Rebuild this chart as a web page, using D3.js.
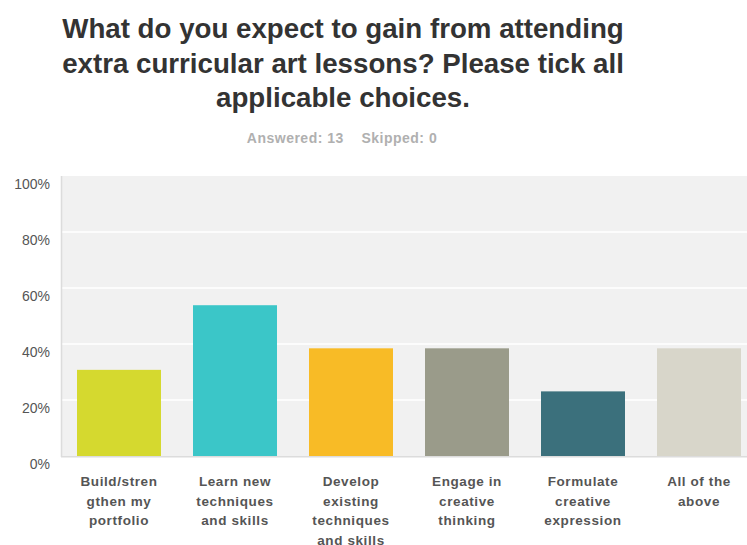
<!DOCTYPE html>
<html>
<head>
<meta charset="utf-8">
<script src="https://cdn.jsdelivr.net/npm/d3@7"></script>
<style>
  html, body { margin: 0; padding: 0; background: #ffffff; }
  svg { display: block; }
</style>
</head>
<body>
<svg id="chart" width="747" height="545"></svg>
<script>
// ---- data ----
const titleLines = ["What do you expect to gain from attending", "extra curricular art lessons? Please tick all", "applicable choices."];
const subtitle = "Answered: 13    Skipped: 0";
const categories = ["Build/strengthen my portfolio", "Learn new techniques and skills", "Develop existing techniques and skills", "Engage in creative thinking", "Formulate creative expression", "All of the above"];
const categoryLines = [
  ["Build/stren", "gthen my", "portfolio"],
  ["Learn new", "techniques", "and skills"],
  ["Develop", "existing", "techniques", "and skills"],
  ["Engage in", "creative", "thinking"],
  ["Formulate", "creative", "expression"],
  ["All of the", "above"]
];
const values = [30.77, 53.85, 38.46, 38.46, 23.08, 38.46];
const colors = ["#d5d92f", "#3bc6c8", "#f8bb26", "#9a9b8a", "#3b707c", "#d8d6ca"];
const yTicks = [0, 20, 40, 60, 80, 100];
const yTickLabels = ["0%", "20%", "40%", "60%", "80%", "100%"];

// ---- layout ----
const svg = d3.select("#chart");
const plot = { left: 61, right: 747, top: 176, bottom: 456 };
const stepPx = 116, gapPx = 32;

const x = d3.scaleBand()
  .domain(categories)
  .range([plot.left, plot.left + stepPx * categories.length])
  .paddingInner(gapPx / stepPx)
  .paddingOuter(gapPx / stepPx / 2);

const y = d3.scaleLinear().domain([0, 100]).range([plot.bottom, plot.top]);

// title
svg.append("g").selectAll("text").data(titleLines).join("text")
  .attr("x", 343)
  .attr("y", (d, i) => 38 + i * 34.5)
  .attr("text-anchor", "middle")
  .attr("font-family", "'Liberation Sans', Arial, Helvetica, sans-serif")
  .attr("font-weight", "bold")
  .attr("font-size", 27.7)
  .attr("fill", "#333333")
  .text(d => d);

svg.append("text")
  .attr("x", 342)
  .attr("y", 143)
  .attr("text-anchor", "middle")
  .attr("font-family", "'Liberation Sans', Arial, Helvetica, sans-serif")
  .attr("font-weight", "bold")
  .attr("font-size", 14)
  .attr("letter-spacing", 0.5)
  .attr("fill", "#b0b0b0")
  .attr("xml:space", "preserve")
  .style("white-space", "pre")
  .text(subtitle);

// plot background
svg.append("rect")
  .attr("x", plot.left).attr("y", plot.top)
  .attr("width", plot.right - plot.left).attr("height", plot.bottom - plot.top)
  .attr("fill", "#f1f1f1");

// gridlines
svg.append("g").selectAll("line").data(yTicks.filter(t => t > 0 && t < 100)).join("line")
  .attr("x1", plot.left).attr("x2", plot.right)
  .attr("y1", d => y(d)).attr("y2", d => y(d))
  .attr("stroke", "#ffffff").attr("stroke-width", 1.5);

// axis lines
svg.append("line")
  .attr("x1", plot.left + 0.5).attr("x2", plot.left + 0.5)
  .attr("y1", plot.top).attr("y2", plot.bottom + 1)
  .attr("stroke", "#dcdcdc").attr("stroke-width", 1.5);
svg.append("line")
  .attr("x1", plot.left).attr("x2", plot.right)
  .attr("y1", plot.bottom + 0.75).attr("y2", plot.bottom + 0.75)
  .attr("stroke", "#dcdcdc").attr("stroke-width", 1.5);

// y tick labels
const yAxis = d3.axisLeft(y).tickValues(yTicks).tickSize(0).tickPadding(11)
  .tickFormat((d, i) => yTickLabels[i]);
const ya = svg.append("g").attr("transform", `translate(${plot.left},8)`).call(yAxis);
ya.select(".domain").remove();
ya.selectAll("text")
  .attr("font-family", "'Liberation Sans', Arial, Helvetica, sans-serif")
  .attr("font-size", 14)
  .attr("fill", "#555555");

// bars
svg.append("g").selectAll("rect").data(values).join("rect")
  .attr("x", (d, i) => x(categories[i]))
  .attr("y", d => y(d))
  .attr("width", x.bandwidth())
  .attr("height", d => y(0) - y(d))
  .attr("fill", (d, i) => colors[i]);

// category labels
const lab = svg.append("g").selectAll("text").data(categoryLines).join("text")
  .attr("text-anchor", "middle")
  .attr("font-family", "'Liberation Sans', Arial, Helvetica, sans-serif")
  .attr("font-weight", "bold")
  .attr("font-size", 13.5)
  .attr("letter-spacing", 0.6)
  .attr("fill", "#555555");
lab.each(function(lines, i) {
  const cx = x(categories[i]) + x.bandwidth() / 2;
  d3.select(this).selectAll("tspan").data(lines).join("tspan")
    .attr("x", cx)
    .attr("y", (d, j) => 486 + j * 19.7)
    .text(d => d);
});
</script>
</body>
</html>
